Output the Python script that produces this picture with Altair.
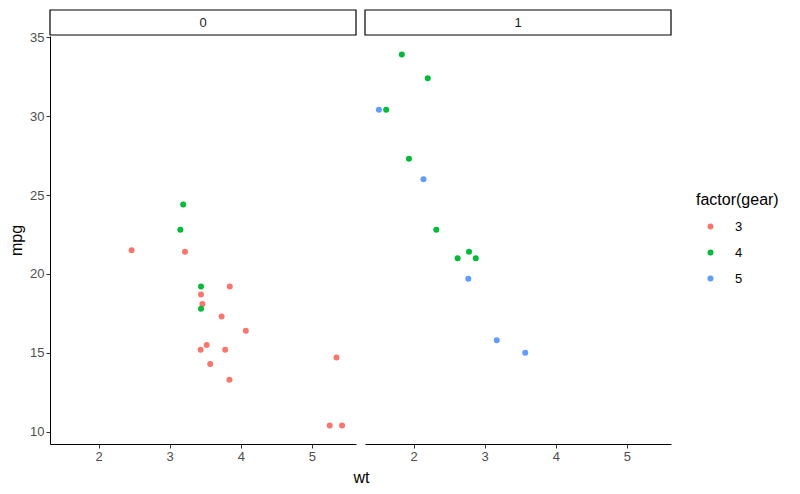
import altair as alt
import pandas as pd

# mtcars
wt = [2.620, 2.875, 2.320, 3.215, 3.440, 3.460, 3.570, 3.190, 3.150, 3.440,
      3.440, 4.070, 3.730, 3.780, 5.250, 5.424, 5.345, 2.200, 1.615, 1.835,
      2.465, 3.520, 3.435, 3.840, 3.845, 1.935, 2.140, 1.513, 3.170, 2.770,
      3.570, 2.780]
mpg = [21.0, 21.0, 22.8, 21.4, 18.7, 18.1, 14.3, 24.4, 22.8, 19.2,
       17.8, 16.4, 17.3, 15.2, 10.4, 10.4, 14.7, 32.4, 30.4, 33.9,
       21.5, 15.5, 15.2, 13.3, 19.2, 27.3, 26.0, 30.4, 15.8, 19.7,
       15.0, 21.4]
am = [1, 1, 1, 0, 0, 0, 0, 0, 0, 0,
      0, 0, 0, 0, 0, 0, 0, 1, 1, 1,
      0, 0, 0, 0, 0, 1, 1, 1, 1, 1,
      1, 1]
gear = [4, 4, 4, 3, 3, 3, 3, 4, 4, 4,
        4, 3, 3, 3, 3, 3, 3, 4, 4, 4,
        3, 3, 3, 3, 3, 4, 5, 5, 5, 5,
        5, 4]

x_ticks = [2, 3, 4, 5]
y_ticks = [10, 15, 20, 25, 30, 35]
gear_levels = ["3", "4", "5"]
gear_colors = ["#F8766D", "#00BA38", "#619CFF"]

df = pd.DataFrame({"wt": wt, "mpg": mpg, "am": am, "gear": [str(g) for g in gear]})

W, H = 306, 408
xdom = [min(wt) - 0.05 * (max(wt) - min(wt)), max(wt) + 0.05 * (max(wt) - min(wt))]
ydom = [min(mpg) - 0.05 * (max(mpg) - min(mpg)), max(mpg) + 0.05 * (max(mpg) - min(mpg))]


def panel(a, left):
    d = df[df.am == a]
    xaxis = alt.Axis(values=x_ticks, title="wt" if left else None, titleX=311,
                     titlePadding=6)
    if left:
        yenc = alt.Y("mpg:Q", scale=alt.Scale(domain=ydom, nice=False, zero=False),
                     axis=alt.Axis(values=y_ticks, title="mpg", titlePadding=5))
    else:
        yenc = alt.Y("mpg:Q", scale=alt.Scale(domain=ydom, nice=False, zero=False),
                     axis=None)
    pts = alt.Chart(d).mark_circle(size=36, opacity=1).encode(
        x=alt.X("wt:Q", scale=alt.Scale(domain=xdom, nice=False, zero=False), axis=xaxis),
        y=yenc,
        color=alt.Color("gear:N",
                        scale=alt.Scale(domain=gear_levels, range=gear_colors),
                        legend=alt.Legend(title="factor(gear)", orient="none",
                                          legendX=646, legendY=156,
                                          titleFontSize=16, labelFontSize=13,
                                          titleFontWeight="normal",
                                          titleColor="black", labelColor="black",
                                          symbolSize=36, symbolType="circle",
                                          rowPadding=12, symbolOffset=8,
                                          labelOffset=18, titlePadding=12)),
    )
    sd = pd.DataFrame({"lab": [str(a)]})
    strip = alt.Chart(sd).mark_rect(fill="white", stroke="black", strokeWidth=1.2).encode(
        x=alt.value(0), x2=alt.value(W), y=alt.value(-26), y2=alt.value(-1))
    stext = alt.Chart(sd).mark_text(fontSize=13, color="#1A1A1A", font="Liberation Sans").encode(
        x=alt.value(W / 2), y=alt.value(-13.5), text="lab:N")
    return alt.layer(strip, stext, pts).properties(width=W, height=H)


chart = alt.hconcat(panel(0, True), panel(1, False), spacing=9, bounds="flush").properties(
    padding={"left": 0, "top": 1, "right": 5, "bottom": 5},
    background="white",
).configure_view(stroke=None).configure_axis(
    grid=False, domainColor="black", domainWidth=1, tickColor="#333333",
    tickSize=4, labelColor="#4D4D4D", labelFontSize=13, labelFont="Liberation Sans",
    titleFont="Liberation Sans", titleFontSize=16, titleFontWeight="normal",
    titleColor="black", labelPadding=2,
).configure_legend(labelFont="Liberation Sans", titleFont="Liberation Sans")

chart.save("out.html", embed_options={"renderer": "svg", "actions": False})
